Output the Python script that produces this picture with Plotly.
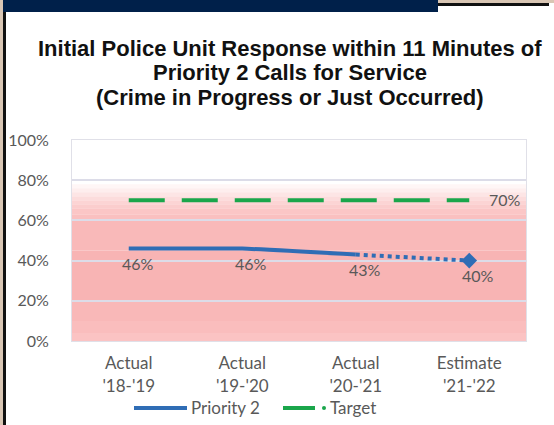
import plotly.graph_objects as go

categories = ["Actual<br>'18-'19", "Actual<br>'19-'20", "Actual<br>'20-'21", "Estimate<br>'21-'22"]
priority2 = [46, 46, 43, 40]
target = [70, 70, 70, 70]
p2_labels = ["46%", "46%", "43%", "40%"]
y_ticks = [0, 20, 40, 60, 80, 100]
y_tick_text = ["0%", "20%", "40%", "60%", "80%", "100%"]
title_lines = ["Initial Police Unit Response within 11 Minutes of",
               "Priority 2 Calls for Service",
               "(Crime in Progress or Just Occurred)"]
legend_names = ["Priority 2", "Target"]

W, H = 554, 425
L, R, T, B = 72, 526, 140, 341

def px(x):
    return (x - L) / (R - L)

def py(y):
    return (B - y) / (B - T)

xs = list(range(len(categories)))
blue = "#2f6db5"
green = "#1aa64b"
grey = "#595959"
font_fam = "Lato, Open Sans, sans-serif"

fig = go.Figure()

# solid actuals
fig.add_trace(go.Scatter(x=xs[:3], y=priority2[:3], mode="lines", name=legend_names[0],
                         showlegend=False,
                         line=dict(color=blue, width=4, shape="spline", smoothing=0.3)))
# dotted estimate
fig.add_trace(go.Scatter(x=xs[2:], y=priority2[2:], mode="lines", showlegend=False,
                         line=dict(color=blue, width=4, dash="dot")))
fig.add_trace(go.Scatter(x=xs[3:], y=priority2[3:], mode="markers", showlegend=False,
                         marker=dict(symbol="diamond", size=12, color=blue)))
# target
fig.add_trace(go.Scatter(x=xs, y=target, mode="lines", name=legend_names[1], showlegend=False,
                         line=dict(color=green, width=4, dash="36px,17px")))

annotations = []
for i, (v, t) in enumerate(zip(priority2, p2_labels)):
    annotations.append(dict(x=xs[i], y=v, text=t, showarrow=False, xshift=9, yshift=-15,
                            font=dict(family=font_fam, size=16, color=grey)))
annotations.append(dict(x=xs[-1], y=target[-1], text=f"{target[-1]}%", showarrow=False,
                        xanchor="left", xshift=18, yshift=1,
                        font=dict(family=font_fam, size=16, color=grey)))
for line, ypix in zip(title_lines, [48, 72, 97]):
    annotations.append(dict(x=px(290), xref="paper", y=py(ypix), yref="paper",
                            text=f"<b>{line}</b>", showarrow=False,
                            xanchor="center", yanchor="middle",
                            font=dict(family="Liberation Sans, Arial, sans-serif", size=22,
                                      color="#111111")))
# manual legend texts
annotations.append(dict(x=px(189), xref="paper", y=py(407), yref="paper", text=legend_names[0],
                        showarrow=False, xanchor="left", yanchor="middle",
                        font=dict(family=font_fam, size=17, color=grey)))
annotations.append(dict(x=px(328), xref="paper", y=py(407), yref="paper", text=legend_names[1],
                        showarrow=False, xanchor="left", yanchor="middle",
                        font=dict(family=font_fam, size=17, color=grey)))

shapes = []
# background gradient (white -> pink)
grad = [(78, 76, "#fff6f6"), (76, 74, "#feeeee"), (74, 72, "#fde5e5"), (72, 70, "#fcdcdc"),
        (70, 68, "#fcd4d4"), (68, 66, "#fbcdcd"), (66, 63, "#fbc6c6"), (63, 60, "#fac0c0"),
        (60, 45, "#f9b9b9"), (45, 20, "#f8b4b4"), (20, 10, "#f9b8b8"), (10, 4, "#fabdbd"),
        (4, 0, "#fbc3c3")]
for y1, y0, c in grad:
    shapes.append(dict(type="rect", xref="paper", yref="y", x0=0, x1=1, y0=y0, y1=y1,
                       fillcolor=c, line=dict(width=0), layer="below"))
# manual legend symbols
shapes.append(dict(type="line", xref="paper", yref="paper", x0=px(134), x1=px(187),
                   y0=py(408), y1=py(408), line=dict(color=blue, width=4)))
shapes.append(dict(type="line", xref="paper", yref="paper", x0=px(283), x1=px(315),
                   y0=py(408), y1=py(408), line=dict(color=green, width=4)))
shapes.append(dict(type="circle", xref="paper", yref="paper", x0=px(322), x1=px(326),
                   y0=py(410), y1=py(406), fillcolor=green, line=dict(width=0)))
# frame
shapes.append(dict(type="rect", xref="paper", yref="paper", x0=px(0), x1=px(3), y0=py(425), y1=py(0),
                   fillcolor="#d9c6b4", line=dict(width=0)))
shapes.append(dict(type="rect", xref="paper", yref="paper", x0=px(3), x1=px(6), y0=py(425), y1=py(3),
                   fillcolor="#111111", line=dict(width=0)))
shapes.append(dict(type="rect", xref="paper", yref="paper", x0=px(438), x1=px(554), y0=py(3), y1=py(0),
                   fillcolor="#d9c6b4", line=dict(width=0)))
shapes.append(dict(type="rect", xref="paper", yref="paper", x0=px(438), x1=px(549), y0=py(6), y1=py(3),
                   fillcolor="#111111", line=dict(width=0)))
shapes.append(dict(type="rect", xref="paper", yref="paper", x0=px(3), x1=px(438), y0=py(12), y1=py(0),
                   fillcolor="#00204a", line=dict(width=0)))

fig.update_layout(
    width=W, height=H,
    margin=dict(l=L, r=W - R, t=T, b=H - B, pad=0, autoexpand=False),
    paper_bgcolor="white", plot_bgcolor="white",
    shapes=shapes, annotations=annotations,
    showlegend=False,
    xaxis=dict(range=[-0.5, 3.5], tickmode="array", tickvals=xs, ticktext=categories,
               showgrid=False, zeroline=False, showline=True, linecolor="#e0e0e8", mirror=True,
               ticks="", ticklabelstandoff=7, automargin=False,
               tickfont=dict(family=font_fam, size=17, color=grey)),
    yaxis=dict(range=[0, 100], tickmode="array", tickvals=y_ticks, ticktext=y_tick_text,
               showgrid=True, gridcolor="#dcdce8", gridwidth=1.5, zeroline=False,
               showline=True, linecolor="#e0e0e8", mirror=True, ticks="", ticklabelstandoff=19,
               automargin=False,
               tickfont=dict(family=font_fam, size=16, color=grey)),
)

fig.write_html("out.html", config={"displayModeBar": False},
               post_script="document.body.style.margin='0';document.body.style.overflow='hidden';")
